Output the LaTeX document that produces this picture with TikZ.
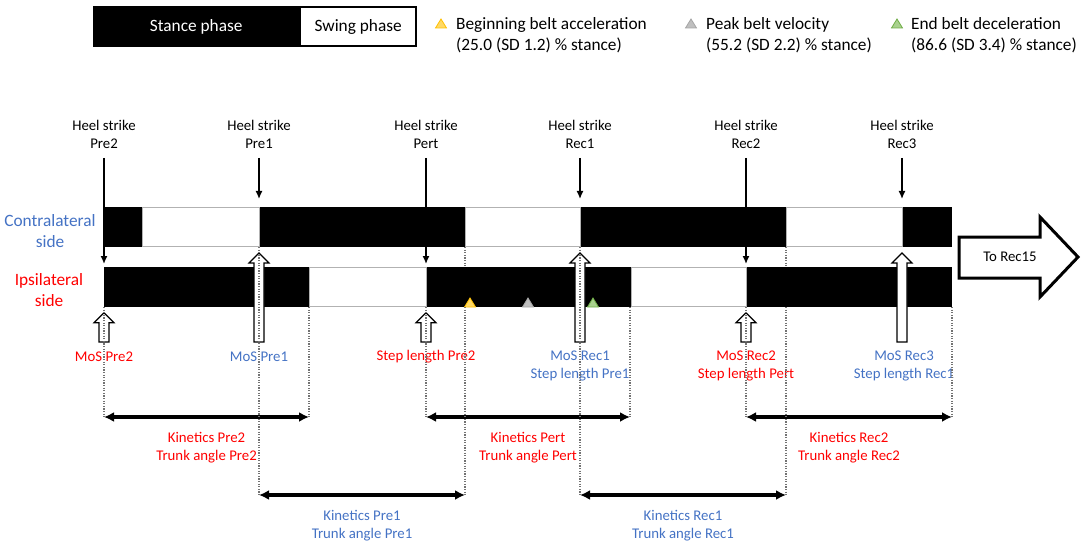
\documentclass[tikz,border=0pt]{standalone}
\usepackage{fontspec}
\setmainfont{Carlito}
\usetikzlibrary{arrows.meta,calc}

\definecolor{ipsired}{RGB}{255,0,0}
\definecolor{contrablue}{RGB}{68,114,196}
\definecolor{accyellow}{RGB}{255,217,102}
\definecolor{accorange}{RGB}{255,192,0}
\definecolor{peakgray}{RGB}{191,191,191}
\definecolor{peakdark}{RGB}{165,165,165}
\definecolor{decgreen}{RGB}{169,209,142}
\definecolor{decdark}{RGB}{112,173,71}

\newcommand{\labelsize}{\fontsize{14.8}{18}\selectfont}
\newcommand{\legendsize}{\fontsize{17.3}{21}\selectfont}
% hollow block arrow, #1 = x, #2 = tip
\newcommand{\hollowup}[2]{%
  \draw[hollow] (#1-5,342) -- (#1-5,#2+10) -- (#1-10,#2+10) -- (#1,#2)
        -- (#1+10,#2+10) -- (#1+5,#2+10) -- (#1+5,342) -- cycle;}
% small triangle, #1 = x, #2 = base, #3 = style
\newcommand{\beltmark}[3]{%
  \draw[#3, line width=0.8pt] (#1-5.5,#2) -- (#1,#2-9) -- (#1+5.5,#2) -- cycle;}

\begin{document}
\begin{tikzpicture}[x=1pt, y=-1pt,
        font=\labelsize,
        >=Latex,
        hsarrow/.style={-{Latex[length=8pt,width=7pt]}, line width=1.4pt},
        span/.style={{Latex[length=10pt,width=10pt]}-{Latex[length=10pt,width=10pt]}, line width=3.3pt},
        guide/.style={draw=black!55, dash pattern=on 1.2pt off 1.4pt, line width=1.1pt},
        hollow/.style={draw, fill=white, line width=1.2pt},
        swing/.style={fill=white, draw=gray!60, line width=0.8pt},
        accmark/.style={fill=accyellow, draw=accorange},
        peakmark/.style={fill=peakgray, draw=peakdark},
        decmark/.style={fill=decgreen, draw=decdark}
        ]
    \useasboundingbox (0,0) rectangle (1084,548);

    % Legende
    \node[fill=black, text=white, font=\legendsize, inner sep=0pt,
          minimum width=206pt, minimum height=41pt, anchor=north west] (stance) at (93,6) {Stance phase};
    \node[draw, line width=1.5pt, fill=white, font=\legendsize, inner sep=0pt,
          minimum width=116pt, minimum height=39pt, anchor=west] (swing) at (stance.east) {Swing phase};

    \beltmark{441}{28}{accmark}
    \beltmark{691}{28}{peakmark}
    \beltmark{897}{28}{decmark}
    \node[font=\legendsize, align=left, anchor=west, inner sep=0pt] (leg-acc) at (456,35.5)
        {Beginning belt acceleration\\(25.0 (SD 1.2) \% stance)};
    \node[font=\legendsize, align=left, anchor=west, inner sep=0pt] (leg-peak) at (706,35.5)
        {Peak belt velocity\\(55.2 (SD 2.2) \% stance)};
    \node[font=\legendsize, align=left, anchor=west, inner sep=0pt] (leg-dec) at (911,35.5)
        {End belt deceleration\\(86.6 (SD 3.4) \% stance)};

    % Balken
    \fill (104,207) rectangle (952,247);
    \fill (104,267) rectangle (952,307);
    \foreach \a/\b in {142/259, 465/580, 786/902}
        \draw[swing] (\a,207.5) rectangle (\b,246.5);
    \foreach \a/\b in {309/426, 631/746}
        \draw[swing] (\a,267.5) rectangle (\b,306.5);

    \node[text=contrablue, font=\legendsize, align=center] (contra) at (50,231) {Contralateral\\side};
    \node[text=ipsired, font=\legendsize, align=center] (ipsi) at (49,290) {Ipsilateral\\side};

    % Fersenkontakte
    \foreach \x/\n/\ev/\y in {104/pre2/Pre2/264, 259/pre1/Pre1/199, 426/pert/Pert/264,
                             580/rec1/Rec1/199, 746/rec2/Rec2/264, 902/rec3/Rec3/199}{
        \node[align=center] (hs-\n) at (\x,134.5) {Heel strike\\\ev};
        \coordinate (hsfoot-\n) at (\x,158);
        \coordinate (hit-\n) at (\x,\y);
        \draw[hsarrow] (hsfoot-\n) -- (hit-\n);
    }

    % MoS Pfeile
    \foreach \x/\y in {104/312.7, 426/312.7, 746/312.7, 259/253, 580/253, 902/253}{
        \hollowup{\x}{\y}
    }

    % Band
    \beltmark{470}{307}{accmark}
    \beltmark{528}{307}{peakmark}
    \beltmark{593}{307}{decmark}

    \draw[line width=3pt, fill=white] (959,237) -- (1040,237) -- (1040,217) -- (1078,257)
        -- (1040,297) -- (1040,278) -- (959,278) -- cycle;
    \node (torec) at (1010,257) {To Rec15};

    % Variablen
    \node[text=ipsired] (mos-pre2) at (104,357) {MoS Pre2};
    \node[text=contrablue] (mos-pre1) at (259,357) {MoS Pre1};
    \node[text=ipsired] (sl-pre2) at (426,357) {Step length Pre2};
    \node[text=contrablue, align=center] (mos-rec1) at (580,366) {MoS Rec1\\Step length Pre1};
    \node[text=ipsired, align=center] (mos-rec2) at (746,366) {MoS Rec2\\Step length Pert};
    \node[text=contrablue, align=center] (mos-rec3) at (904,366) {MoS Rec3\\Step length Rec1};

    % Intervalle
    \foreach \n/\xa/\xb/\y/\ev/\col in {kpre2/104/309/417/Pre2/ipsired, kpert/426/630/417/Pert/ipsired,
                                        krec2/746/952/417/Rec2/ipsired, kpre1/259/465/495/Pre1/contrablue,
                                        krec1/580/786/495/Rec1/contrablue}{
        \coordinate (\n-l) at (\xa,\y);
        \coordinate (\n-r) at (\xb,\y);
        \draw[span] (\n-l) -- (\n-r);
        \node[text=\col, align=center] (\n) at ($(\n-l)!0.5!(\n-r)+(0,31)$) {Kinetics \ev\\Trunk angle \ev};
    }

    % Hilfslinien
    \foreach \x/\ya/\yb in {104/307/417, 309/307/417, 426/307/417, 630/307/417, 746/307/417,
                            952/307/417, 259/247/495, 580/247/495, 465/247/267, 465/307/495,
                            786/247/267, 786/307/495}
        \draw[guide] (\x,\ya) -- (\x,\yb);

\end{tikzpicture}
\end{document}
